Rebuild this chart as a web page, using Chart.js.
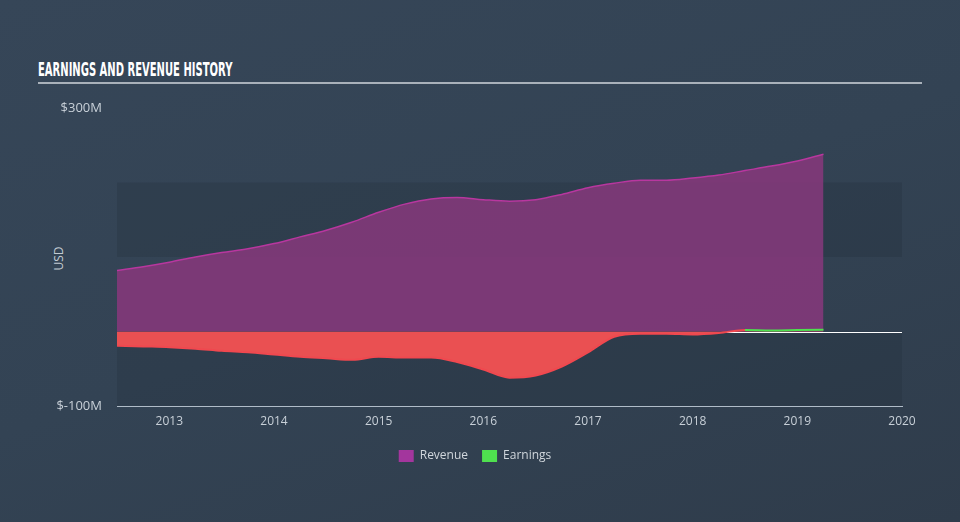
<!DOCTYPE html>
<html>
<head>
<meta charset="utf-8">
<script src="https://cdn.jsdelivr.net/npm/chart.js@4"></script>
<style>
    html, body { margin: 0; padding: 0; }
    body {
        width: 960px; height: 522px; overflow: hidden; position: relative;
        background: linear-gradient(160deg, #364658 0%, #334354 50%, #2f3c4b 100%);
        font-family: "Open Sans", sans-serif;
    }
    #title {
        position: absolute; left: 38px; top: 57px; width: 884px; height: 25px;
        border-bottom: 2px solid #a9b1ba;
    }
    #title span {
        display: inline-block; transform: scaleX(0.5); transform-origin: left top;
        font-family: "DejaVu Sans", sans-serif; white-space: nowrap;
        font-weight: bold; font-size: 20px; color: #fff;
    }
    #usd {
        position: absolute; left: 46px; top: 250px; transform: rotate(-90deg);
        font-size: 12px; color: #c3cbd3;
    }
    #wrap { position: absolute; left: 0; top: 0; width: 960px; height: 522px; }
</style>
</head>
<body>
<div id="title"><span>EARNINGS AND REVENUE HISTORY</span></div>
<div id="usd">USD</div>
<div id="wrap"><canvas id="chart"></canvas></div>
<script>
const years = [2012.5, 2012.75, 2013, 2013.25, 2013.5, 2013.75, 2014, 2014.25, 2014.5, 2014.75, 2015, 2015.25, 2015.5, 2015.75, 2016, 2016.25, 2016.5, 2016.75, 2017, 2017.25, 2017.5, 2017.75, 2018, 2018.25, 2018.5, 2018.75, 2019, 2019.25]
const revenue = [82, 87, 93, 100, 106, 111, 118, 127, 136, 147, 160, 171, 178, 180, 177, 175, 177, 184, 193, 199, 203, 203, 206, 210, 216, 222, 229, 238]
const earnings = [-19, -20, -21, -23, -26, -28, -31, -34, -36, -38, -34, -35, -35, -41, -51, -62, -59, -47, -28, -7, -3, -3, -4, -2, 2, 1.5, 2, 2.5]
const xTicks = [2013, 2014, 2015, 2016, 2017, 2018, 2019, 2020]
const yTicks = [-100, 300]
const bands = [[-100, 0], [100, 200]]

const toPoints = vals => vals.map((v, i) => ({ x: years[i], y: v }))

const bgPlugin = {
    id: 'bands',
    beforeDatasetsDraw(chart) {
        const { ctx, chartArea: a, scales: { y } } = chart
        ctx.save()
        ctx.fillStyle = 'rgba(30,42,56,0.25)'
        bands.forEach(([lo, hi]) => {
            const top = y.getPixelForValue(hi)
            const bot = y.getPixelForValue(lo)
            ctx.fillRect(a.left, top, a.right - a.left, bot - top)
        })
        const z = Math.round(y.getPixelForValue(0)) + 0.5
        ctx.strokeStyle = '#ffffff'
        ctx.lineWidth = 1
        ctx.beginPath()
        ctx.moveTo(a.left, z)
        ctx.lineTo(a.right, z)
        ctx.stroke()
        ctx.restore()
    }
}

new Chart(document.getElementById('chart'), {
    type: 'line',
    data: {
        datasets: [{
            label: 'Revenue',
            data: toPoints(revenue),
            borderColor: '#b8379f',
            backgroundColor: 'rgba(131,56,122,0.9)',
            borderWidth: 1.5,
            pointRadius: 0,
            fill: 'origin',
            cubicInterpolationMode: 'monotone',
            order: 2
        }, {
            label: 'Earnings',
            data: toPoints(earnings),
            borderColor: '#f0484f',
            backgroundColor: '#4fe04f',
            borderWidth: 2,
            pointRadius: 0,
            fill: { target: 'origin', above: 'rgba(0,0,0,0)', below: '#ea5052' },
            cubicInterpolationMode: 'monotone',
            segment: {
                borderColor: c => (c.p0.parsed.y >= 0 && c.p1.parsed.y >= 0) ? '#4fe04f' : '#f0484f'
            },
            order: 1
        }]
    },
    options: {
        responsive: true,
        maintainAspectRatio: false,
        animation: false,
        layout: { padding: { left: 48, right: 58, top: 108, bottom: 50 } },
        plugins: {
            tooltip: { enabled: false },
            legend: {
                position: 'bottom',
                labels: {
                    color: '#d0d6dc',
                    font: { family: 'Open Sans', size: 12 },
                    boxWidth: 15,
                    boxHeight: 12,
                    padding: 14,
                    generateLabels: chart => chart.data.datasets.map((d, i) => ({
                        text: d.label,
                        fillStyle: i === 0 ? '#a3369d' : '#4fe04f',
                        strokeStyle: 'transparent',
                        lineWidth: 0,
                        fontColor: '#d0d6dc',
                        datasetIndex: i
                    }))
                }
            }
        },
        scales: {
            x: {
                type: 'linear',
                min: 2012.5,
                max: 2020,
                afterBuildTicks: s => { s.ticks = xTicks.map(v => ({ value: v })) },
                afterFit: s => { s.height = 30 },
                grid: { display: false, drawTicks: true, tickLength: 8, tickColor: '#b0bcc8' },
                border: { display: true, color: '#b0bcc8', width: 1 },
                ticks: {
                    color: '#c8d0d8',
                    font: { family: 'Open Sans', size: 12 },
                    padding: 0,
                    maxRotation: 0,
                    callback: v => String(v)
                }
            },
            y: {
                min: -100,
                max: 300,
                afterBuildTicks: s => { s.ticks = yTicks.map(v => ({ value: v })) },
                afterFit: s => { s.width = 69 },
                grid: { display: false },
                border: { display: false },
                ticks: {
                    color: '#c8d0d8',
                    font: { family: 'Open Sans', size: 13 },
                    padding: 7,
                    callback: v => '$' + v + 'M'
                }
            }
        }
    },
    plugins: [bgPlugin]
})
</script>
</body>
</html>
